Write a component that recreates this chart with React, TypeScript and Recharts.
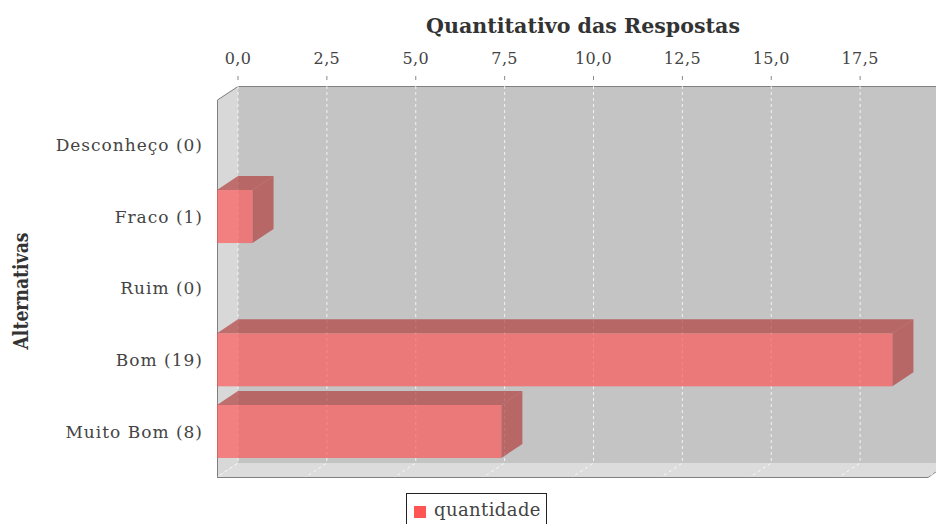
import React from "react";
import { Bar, BarChart, CartesianGrid, XAxis, YAxis } from "recharts";

// values
const categories = ["Desconheço (0)", "Fraco (1)", "Ruim (0)", "Bom (19)", "Muito Bom (8)"];
const quantidade = [0, 1, 0, 19, 8];
const xTicks = [0, 2.5, 5, 7.5, 10, 12.5, 15, 17.5];
const seriesName = "quantidade";
const chartTitle = "Quantitativo das Respostas";
const yTitle = "Alternativas";

const data = categories.map((name, i) => ({ name, [seriesName]: quantidade[i] }));

// layout of the front face of the 3D plot and its depth offset
const W = 936;
const H = 524;
const PLOT_LEFT = 217;
const PLOT_TOP = 100;
const PLOT_RIGHT = 928;
const PLOT_BOTTOM = 477;
const DX = 21;
const DY = 14;
const CAT_PAD = 9.4;

const FONT = "'DejaVu Serif', serif";
const TEXT = "#444444";
const SERIES_COLOR = "#ff5555";
const SERIES_DARK = "#b23b3b";
const ALPHA = 0.68;

const fmt = (v: number) => v.toFixed(1).replace(".", ",");

function Walls() {
  const bl = PLOT_LEFT + DX;
  const bt = PLOT_TOP - DY;
  const bb = PLOT_BOTTOM - DY;
  const br = PLOT_RIGHT + DX;
  return (
    <svg width={W} height={H} style={{ position: "absolute", left: 0, top: 0 }}>
      <rect x={bl} y={bt} width={br - bl} height={bb - bt} fill="#c4c4c4" />
      <polygon
        points={`${PLOT_LEFT},${PLOT_TOP} ${bl},${bt} ${bl},${bb} ${PLOT_LEFT},${PLOT_BOTTOM}`}
        fill="#d8d8d8"
      />
      <polygon
        points={`${PLOT_LEFT},${PLOT_BOTTOM} ${bl},${bb} ${br},${bb} ${PLOT_RIGHT},${PLOT_BOTTOM}`}
        fill="#dcdcdc"
      />
      <path
        d={`M${PLOT_LEFT + 0.5},${PLOT_BOTTOM} V${PLOT_TOP} L${bl},${bt + 0.5} H${br}`}
        stroke="#808080"
        fill="none"
      />
      <path d={`M${PLOT_LEFT},${PLOT_BOTTOM + 0.5} H${PLOT_RIGHT} L${br},${bb}`} stroke="#808080" fill="none" />
    </svg>
  );
}

function GridLine(props: any) {
  const { x1 } = props;
  return (
    <path
      d={`M${x1 + DX},${PLOT_TOP - DY} V${PLOT_BOTTOM - DY} L${x1},${PLOT_BOTTOM}`}
      stroke="#ffffff"
      strokeOpacity={0.8}
      strokeDasharray="3 3"
      fill="none"
    />
  );
}

function XTick(props: any) {
  const { x, payload } = props;
  const bx = x + DX;
  return (
    <g>
      <line x1={bx} x2={bx} y1={76} y2={80} stroke="#888" />
      <text
        x={bx}
        y={64}
        textAnchor="middle"
        fontFamily={FONT}
        fontSize={16}
        letterSpacing={0.4}
        fill={TEXT}
      >
        {fmt(payload.value)}
      </text>
    </g>
  );
}

function YTick(props: any) {
  const { y, payload } = props;
  return (
    <text
      x={PLOT_LEFT - 14}
      y={y}
      dy="0.35em"
      textAnchor="end"
      fontFamily={FONT}
      fontSize={17}
      letterSpacing={1}
      fill={TEXT}
    >
      {payload.value}
    </text>
  );
}

function Bar3D(props: any) {
  const { x, y, width, height } = props;
  if (!width || width <= 0) return null;
  const r = x + width;
  return (
    <g>
      <rect x={x} y={y} width={width} height={height} fill={SERIES_COLOR} fillOpacity={ALPHA} />
      <polygon
        points={`${x},${y} ${x + DX},${y - DY} ${r + DX},${y - DY} ${r},${y}`}
        fill={SERIES_DARK}
        fillOpacity={ALPHA}
      />
      <polygon
        points={`${r},${y} ${r + DX},${y - DY} ${r + DX},${y + height - DY} ${r},${y + height}`}
        fill={SERIES_DARK}
        fillOpacity={ALPHA}
      />
    </g>
  );
}

function TitleLabel() {
  return (
    <text
      x={(PLOT_LEFT + PLOT_RIGHT + DX) / 2}
      y={33}
      textAnchor="middle"
      fontFamily={FONT}
      fontWeight="bold"
      fontSize={20}
      fill="#333"
      textLength={314}
      lengthAdjust="spacingAndGlyphs"
    >
      {chartTitle}
    </text>
  );
}

function YTitle() {
  return (
    <text
      x={0}
      y={0}
      transform="translate(28,291) rotate(-90)"
      textAnchor="middle"
      fontFamily={FONT}
      fontWeight="bold"
      fontSize={20}
      fill="#333"
      textLength={117}
      lengthAdjust="spacingAndGlyphs"
    >
      {yTitle}
    </text>
  );
}

function LegendBox() {
  return (
    <div
      style={{
        position: "absolute",
        left: 406,
        top: 493,
        width: 141,
        height: 40,
        border: "1px solid #222",
        background: "#fff",
        fontFamily: FONT,
        fontSize: 18,
        letterSpacing: 0.4,
        color: TEXT,
        boxSizing: "border-box",
      }}
    >
      <span
        style={{
          position: "absolute",
          left: 7,
          top: 12,
          width: 12,
          height: 12,
          background: SERIES_COLOR,
        }}
      />
      <span style={{ position: "absolute", left: 27, top: 5, whiteSpace: "nowrap" }}>{seriesName}</span>
    </div>
  );
}

export default function App() {
  return (
    <div style={{ position: "absolute", left: 0, top: 0, width: W, height: H, overflow: "hidden", background: "#fff" }}>
      <Walls />
      <div style={{ position: "absolute", left: 0, top: 0 }}>
        <BarChart
          width={W}
          height={H}
          data={data}
          layout="vertical"
          margin={{ top: 0, right: W - PLOT_RIGHT, bottom: H - PLOT_BOTTOM, left: 0 }}
          barSize={53}
        >
          <CartesianGrid horizontal={false} vertical={(p: any) => <GridLine key={p.key} {...p} />} />
          <XAxis
            type="number"
            orientation="top"
            height={PLOT_TOP}
            domain={[0, 20]}
            ticks={xTicks}
            tick={<XTick />}
            axisLine={false}
            tickLine={false}
            label={<TitleLabel />}
          />
          <YAxis
            type="category"
            dataKey="name"
            width={PLOT_LEFT}
            padding={{ top: CAT_PAD, bottom: CAT_PAD }}
            tick={<YTick />}
            axisLine={false}
            tickLine={false}
            label={<YTitle />}
          />
          <Bar dataKey={seriesName} shape={<Bar3D />} isAnimationActive={false} />
        </BarChart>
      </div>
      <LegendBox />
    </div>
  );
}
